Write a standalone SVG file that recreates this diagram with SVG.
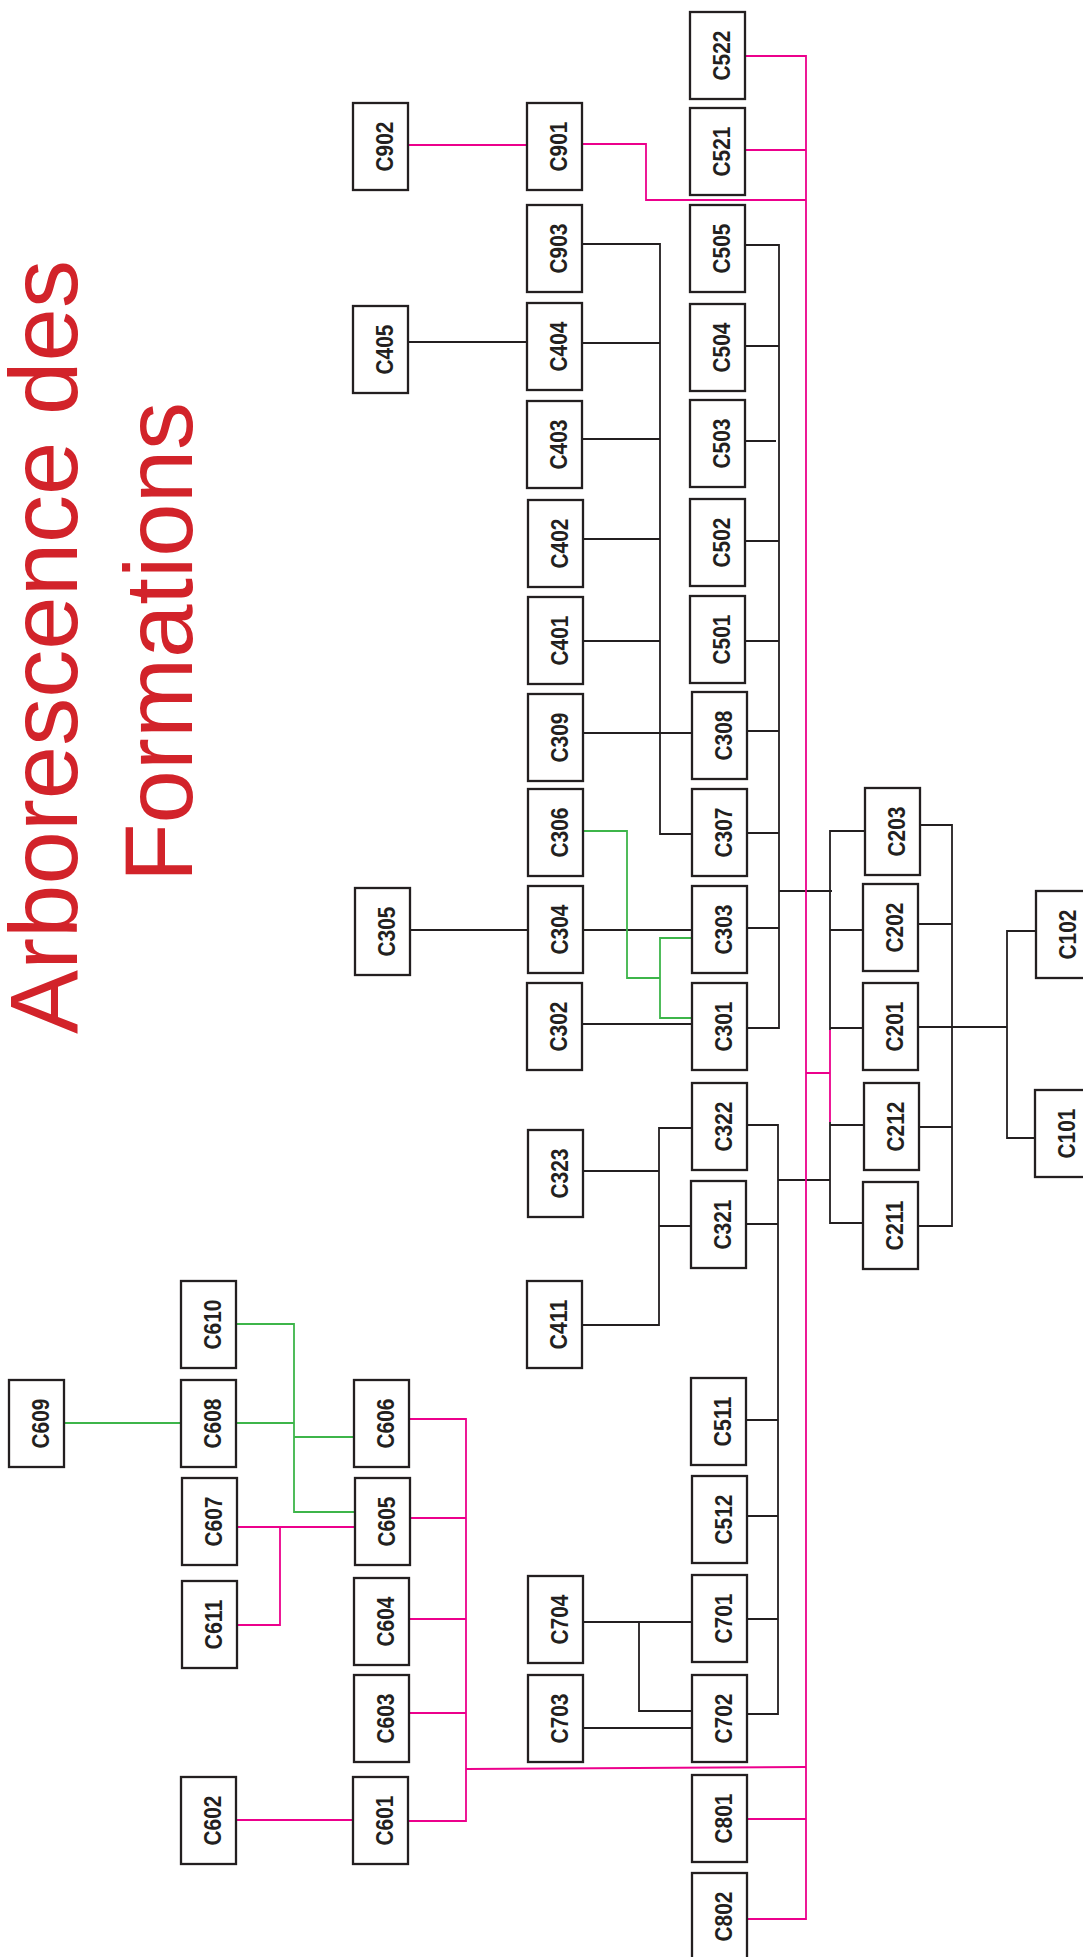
<svg xmlns="http://www.w3.org/2000/svg" width="1083" height="1957" viewBox="0 0 1083 1957">
<style>
.box{fill:#fff;stroke:#231f20;stroke-width:2.3}
.lbl{font-family:"Liberation Sans",Arial,sans-serif;font-weight:bold;font-size:24px;fill:#231f20;text-anchor:middle}
.title{font-family:"Liberation Sans",Arial,sans-serif;font-size:96px;fill:#d2232a;text-anchor:middle}
.k{fill:none;stroke:#231f20;stroke-width:1.8}
.g{fill:none;stroke:#3db54a;stroke-width:1.8}
.p{fill:none;stroke:#ec008c;stroke-width:1.8}
</style>
<rect width="1083" height="1957" fill="#fff"/>
<g id="title">
<text class="title" transform="translate(77,647) rotate(-90)">Arborescence des</text>
<text class="title" transform="translate(192,642) rotate(-90)">Formations</text>
</g>
<g id="connectors">
<g id="black">
<path class="k" d="M408,342H527"/>
<path class="k" d="M582,244H660V834H692"/>
<path class="k" d="M582,343H660M582,439H660M583,539H660M583,641H660"/>
<path class="k" d="M583,733H692"/>
<path class="k" d="M410,930H528M583,930H692"/>
<path class="k" d="M582,1024H692"/>
<path class="k" d="M745,245H779V1028H747"/>
<path class="k" d="M745,346H779M745,441H776M745,541H779M745,641H779M747,731H779M747,833H779M747,928H779"/>
<path class="k" d="M779,891H832"/>
<path class="k" d="M830,1030V831H865M830,930H863M830,1028H863"/>
<path class="k" d="M830,1122V1223H863M830,1125H864"/>
<path class="k" d="M778,1180H830"/>
<path class="k" d="M747,1125H778V1714H747M746,1224H778M746,1420H778M747,1516H778M747,1619H778"/>
<path class="k" d="M920,825H952V1226H918M918,924H952M918,1127H952"/>
<path class="k" d="M918,1027H1007"/>
<path class="k" d="M1036,931H1007V1138H1035"/>
<path class="k" d="M583,1171H659M692,1128H659V1325H582M659,1226H691"/>
<path class="k" d="M582,1622H692M639,1622V1711H692M582,1728H692"/>
</g>
<g id="green">
<path class="g" d="M583,831H627V978H660"/>
<path class="g" d="M692,938H660V1018H692"/>
<path class="g" d="M64,1423H181"/>
<path class="g" d="M236,1324H294V1512H355M236,1423H294M294,1437H354"/>
</g>
<g id="pink">
<path class="p" d="M408,145H527"/>
<path class="p" d="M582,144H646V200H806"/>
<path class="p" d="M745,56H806V1919H747M745,150H806M747,1819H806"/>
<path class="p" d="M806,1073H830M830,1030V1122"/>
<path class="p" d="M466,1769L806,1767"/>
<path class="p" d="M409,1419H466V1821H409M410,1518H466M409,1619H466M409,1713H466"/>
<path class="p" d="M236,1820H353"/>
<path class="p" d="M237,1527H355M280,1527V1625H237"/>
</g>
</g>
<g id="nodes">
<g id="C609"><rect class="box" x="9" y="1380" width="55" height="87"/><text class="lbl" textLength="50" lengthAdjust="spacingAndGlyphs" transform="translate(48.5,1423.5) rotate(-90)">C609</text></g>
<g id="C610"><rect class="box" x="181" y="1281" width="55" height="87"/><text class="lbl" textLength="50" lengthAdjust="spacingAndGlyphs" transform="translate(220.5,1324.5) rotate(-90)">C610</text></g>
<g id="C608"><rect class="box" x="181" y="1380" width="55" height="87"/><text class="lbl" textLength="50" lengthAdjust="spacingAndGlyphs" transform="translate(220.5,1423.5) rotate(-90)">C608</text></g>
<g id="C607"><rect class="box" x="182" y="1478" width="55" height="87"/><text class="lbl" textLength="50" lengthAdjust="spacingAndGlyphs" transform="translate(221.5,1521.5) rotate(-90)">C607</text></g>
<g id="C611"><rect class="box" x="182" y="1581" width="55" height="87"/><text class="lbl" textLength="50" lengthAdjust="spacingAndGlyphs" transform="translate(221.5,1624.5) rotate(-90)">C611</text></g>
<g id="C602"><rect class="box" x="181" y="1777" width="55" height="87"/><text class="lbl" textLength="50" lengthAdjust="spacingAndGlyphs" transform="translate(220.5,1820.5) rotate(-90)">C602</text></g>
<g id="C902"><rect class="box" x="353" y="103" width="55" height="87"/><text class="lbl" textLength="50" lengthAdjust="spacingAndGlyphs" transform="translate(392.5,146.5) rotate(-90)">C902</text></g>
<g id="C405"><rect class="box" x="353" y="306" width="55" height="87"/><text class="lbl" textLength="50" lengthAdjust="spacingAndGlyphs" transform="translate(392.5,349.5) rotate(-90)">C405</text></g>
<g id="C305"><rect class="box" x="355" y="888" width="55" height="87"/><text class="lbl" textLength="50" lengthAdjust="spacingAndGlyphs" transform="translate(394.5,931.5) rotate(-90)">C305</text></g>
<g id="C606"><rect class="box" x="354" y="1380" width="55" height="87"/><text class="lbl" textLength="50" lengthAdjust="spacingAndGlyphs" transform="translate(393.5,1423.5) rotate(-90)">C606</text></g>
<g id="C605"><rect class="box" x="355" y="1478" width="55" height="87"/><text class="lbl" textLength="50" lengthAdjust="spacingAndGlyphs" transform="translate(394.5,1521.5) rotate(-90)">C605</text></g>
<g id="C604"><rect class="box" x="354" y="1578" width="55" height="87"/><text class="lbl" textLength="50" lengthAdjust="spacingAndGlyphs" transform="translate(393.5,1621.5) rotate(-90)">C604</text></g>
<g id="C603"><rect class="box" x="354" y="1675" width="55" height="87"/><text class="lbl" textLength="50" lengthAdjust="spacingAndGlyphs" transform="translate(393.5,1718.5) rotate(-90)">C603</text></g>
<g id="C601"><rect class="box" x="353" y="1777" width="55" height="87"/><text class="lbl" textLength="50" lengthAdjust="spacingAndGlyphs" transform="translate(392.5,1820.5) rotate(-90)">C601</text></g>
<g id="C901"><rect class="box" x="527" y="103" width="55" height="87"/><text class="lbl" textLength="50" lengthAdjust="spacingAndGlyphs" transform="translate(566.5,146.5) rotate(-90)">C901</text></g>
<g id="C903"><rect class="box" x="527" y="205" width="55" height="87"/><text class="lbl" textLength="50" lengthAdjust="spacingAndGlyphs" transform="translate(566.5,248.5) rotate(-90)">C903</text></g>
<g id="C404"><rect class="box" x="527" y="303" width="55" height="87"/><text class="lbl" textLength="50" lengthAdjust="spacingAndGlyphs" transform="translate(566.5,346.5) rotate(-90)">C404</text></g>
<g id="C403"><rect class="box" x="527" y="401" width="55" height="87"/><text class="lbl" textLength="50" lengthAdjust="spacingAndGlyphs" transform="translate(566.5,444.5) rotate(-90)">C403</text></g>
<g id="C402"><rect class="box" x="528" y="500" width="55" height="87"/><text class="lbl" textLength="50" lengthAdjust="spacingAndGlyphs" transform="translate(567.5,543.5) rotate(-90)">C402</text></g>
<g id="C401"><rect class="box" x="528" y="597" width="55" height="87"/><text class="lbl" textLength="50" lengthAdjust="spacingAndGlyphs" transform="translate(567.5,640.5) rotate(-90)">C401</text></g>
<g id="C309"><rect class="box" x="528" y="694" width="55" height="87"/><text class="lbl" textLength="50" lengthAdjust="spacingAndGlyphs" transform="translate(567.5,737.5) rotate(-90)">C309</text></g>
<g id="C306"><rect class="box" x="528" y="789" width="55" height="87"/><text class="lbl" textLength="50" lengthAdjust="spacingAndGlyphs" transform="translate(567.5,832.5) rotate(-90)">C306</text></g>
<g id="C304"><rect class="box" x="528" y="886" width="55" height="87"/><text class="lbl" textLength="50" lengthAdjust="spacingAndGlyphs" transform="translate(567.5,929.5) rotate(-90)">C304</text></g>
<g id="C302"><rect class="box" x="527" y="983" width="55" height="87"/><text class="lbl" textLength="50" lengthAdjust="spacingAndGlyphs" transform="translate(566.5,1026.5) rotate(-90)">C302</text></g>
<g id="C323"><rect class="box" x="528" y="1130" width="55" height="87"/><text class="lbl" textLength="50" lengthAdjust="spacingAndGlyphs" transform="translate(567.5,1173.5) rotate(-90)">C323</text></g>
<g id="C411"><rect class="box" x="527" y="1281" width="55" height="87"/><text class="lbl" textLength="50" lengthAdjust="spacingAndGlyphs" transform="translate(566.5,1324.5) rotate(-90)">C411</text></g>
<g id="C704"><rect class="box" x="528" y="1576" width="55" height="87"/><text class="lbl" textLength="50" lengthAdjust="spacingAndGlyphs" transform="translate(567.5,1619.5) rotate(-90)">C704</text></g>
<g id="C703"><rect class="box" x="528" y="1675" width="55" height="87"/><text class="lbl" textLength="50" lengthAdjust="spacingAndGlyphs" transform="translate(567.5,1718.5) rotate(-90)">C703</text></g>
<g id="C522"><rect class="box" x="690" y="12" width="55" height="87"/><text class="lbl" textLength="50" lengthAdjust="spacingAndGlyphs" transform="translate(729.5,55.5) rotate(-90)">C522</text></g>
<g id="C521"><rect class="box" x="690" y="108" width="55" height="87"/><text class="lbl" textLength="50" lengthAdjust="spacingAndGlyphs" transform="translate(729.5,151.5) rotate(-90)">C521</text></g>
<g id="C505"><rect class="box" x="690" y="205" width="55" height="87"/><text class="lbl" textLength="50" lengthAdjust="spacingAndGlyphs" transform="translate(729.5,248.5) rotate(-90)">C505</text></g>
<g id="C504"><rect class="box" x="690" y="304" width="55" height="87"/><text class="lbl" textLength="50" lengthAdjust="spacingAndGlyphs" transform="translate(729.5,347.5) rotate(-90)">C504</text></g>
<g id="C503"><rect class="box" x="690" y="400" width="55" height="87"/><text class="lbl" textLength="50" lengthAdjust="spacingAndGlyphs" transform="translate(729.5,443.5) rotate(-90)">C503</text></g>
<g id="C502"><rect class="box" x="690" y="499" width="55" height="87"/><text class="lbl" textLength="50" lengthAdjust="spacingAndGlyphs" transform="translate(729.5,542.5) rotate(-90)">C502</text></g>
<g id="C501"><rect class="box" x="690" y="596" width="55" height="87"/><text class="lbl" textLength="50" lengthAdjust="spacingAndGlyphs" transform="translate(729.5,639.5) rotate(-90)">C501</text></g>
<g id="C308"><rect class="box" x="692" y="692" width="55" height="87"/><text class="lbl" textLength="50" lengthAdjust="spacingAndGlyphs" transform="translate(731.5,735.5) rotate(-90)">C308</text></g>
<g id="C307"><rect class="box" x="692" y="789" width="55" height="87"/><text class="lbl" textLength="50" lengthAdjust="spacingAndGlyphs" transform="translate(731.5,832.5) rotate(-90)">C307</text></g>
<g id="C303"><rect class="box" x="692" y="886" width="55" height="87"/><text class="lbl" textLength="50" lengthAdjust="spacingAndGlyphs" transform="translate(731.5,929.5) rotate(-90)">C303</text></g>
<g id="C301"><rect class="box" x="692" y="983" width="55" height="87"/><text class="lbl" textLength="50" lengthAdjust="spacingAndGlyphs" transform="translate(731.5,1026.5) rotate(-90)">C301</text></g>
<g id="C322"><rect class="box" x="692" y="1083" width="55" height="87"/><text class="lbl" textLength="50" lengthAdjust="spacingAndGlyphs" transform="translate(731.5,1126.5) rotate(-90)">C322</text></g>
<g id="C321"><rect class="box" x="691" y="1181" width="55" height="87"/><text class="lbl" textLength="50" lengthAdjust="spacingAndGlyphs" transform="translate(730.5,1224.5) rotate(-90)">C321</text></g>
<g id="C511"><rect class="box" x="691" y="1378" width="55" height="87"/><text class="lbl" textLength="50" lengthAdjust="spacingAndGlyphs" transform="translate(730.5,1421.5) rotate(-90)">C511</text></g>
<g id="C512"><rect class="box" x="692" y="1476" width="55" height="87"/><text class="lbl" textLength="50" lengthAdjust="spacingAndGlyphs" transform="translate(731.5,1519.5) rotate(-90)">C512</text></g>
<g id="C701"><rect class="box" x="692" y="1575" width="55" height="87"/><text class="lbl" textLength="50" lengthAdjust="spacingAndGlyphs" transform="translate(731.5,1618.5) rotate(-90)">C701</text></g>
<g id="C702"><rect class="box" x="692" y="1675" width="55" height="87"/><text class="lbl" textLength="50" lengthAdjust="spacingAndGlyphs" transform="translate(731.5,1718.5) rotate(-90)">C702</text></g>
<g id="C801"><rect class="box" x="692" y="1775" width="55" height="87"/><text class="lbl" textLength="50" lengthAdjust="spacingAndGlyphs" transform="translate(731.5,1818.5) rotate(-90)">C801</text></g>
<g id="C802"><rect class="box" x="692" y="1873" width="55" height="87"/><text class="lbl" textLength="50" lengthAdjust="spacingAndGlyphs" transform="translate(731.5,1916.5) rotate(-90)">C802</text></g>
<g id="C203"><rect class="box" x="865" y="788" width="55" height="87"/><text class="lbl" textLength="50" lengthAdjust="spacingAndGlyphs" transform="translate(904.5,831.5) rotate(-90)">C203</text></g>
<g id="C202"><rect class="box" x="863" y="884" width="55" height="87"/><text class="lbl" textLength="50" lengthAdjust="spacingAndGlyphs" transform="translate(902.5,927.5) rotate(-90)">C202</text></g>
<g id="C201"><rect class="box" x="863" y="983" width="55" height="87"/><text class="lbl" textLength="50" lengthAdjust="spacingAndGlyphs" transform="translate(902.5,1026.5) rotate(-90)">C201</text></g>
<g id="C212"><rect class="box" x="864" y="1083" width="55" height="87"/><text class="lbl" textLength="50" lengthAdjust="spacingAndGlyphs" transform="translate(903.5,1126.5) rotate(-90)">C212</text></g>
<g id="C211"><rect class="box" x="863" y="1182" width="55" height="87"/><text class="lbl" textLength="50" lengthAdjust="spacingAndGlyphs" transform="translate(902.5,1225.5) rotate(-90)">C211</text></g>
<g id="C102"><rect class="box" x="1036" y="891" width="55" height="87"/><text class="lbl" textLength="50" lengthAdjust="spacingAndGlyphs" transform="translate(1075.5,934.5) rotate(-90)">C102</text></g>
<g id="C101"><rect class="box" x="1035" y="1090" width="55" height="87"/><text class="lbl" textLength="50" lengthAdjust="spacingAndGlyphs" transform="translate(1074.5,1133.5) rotate(-90)">C101</text></g>
</g>
</svg>
